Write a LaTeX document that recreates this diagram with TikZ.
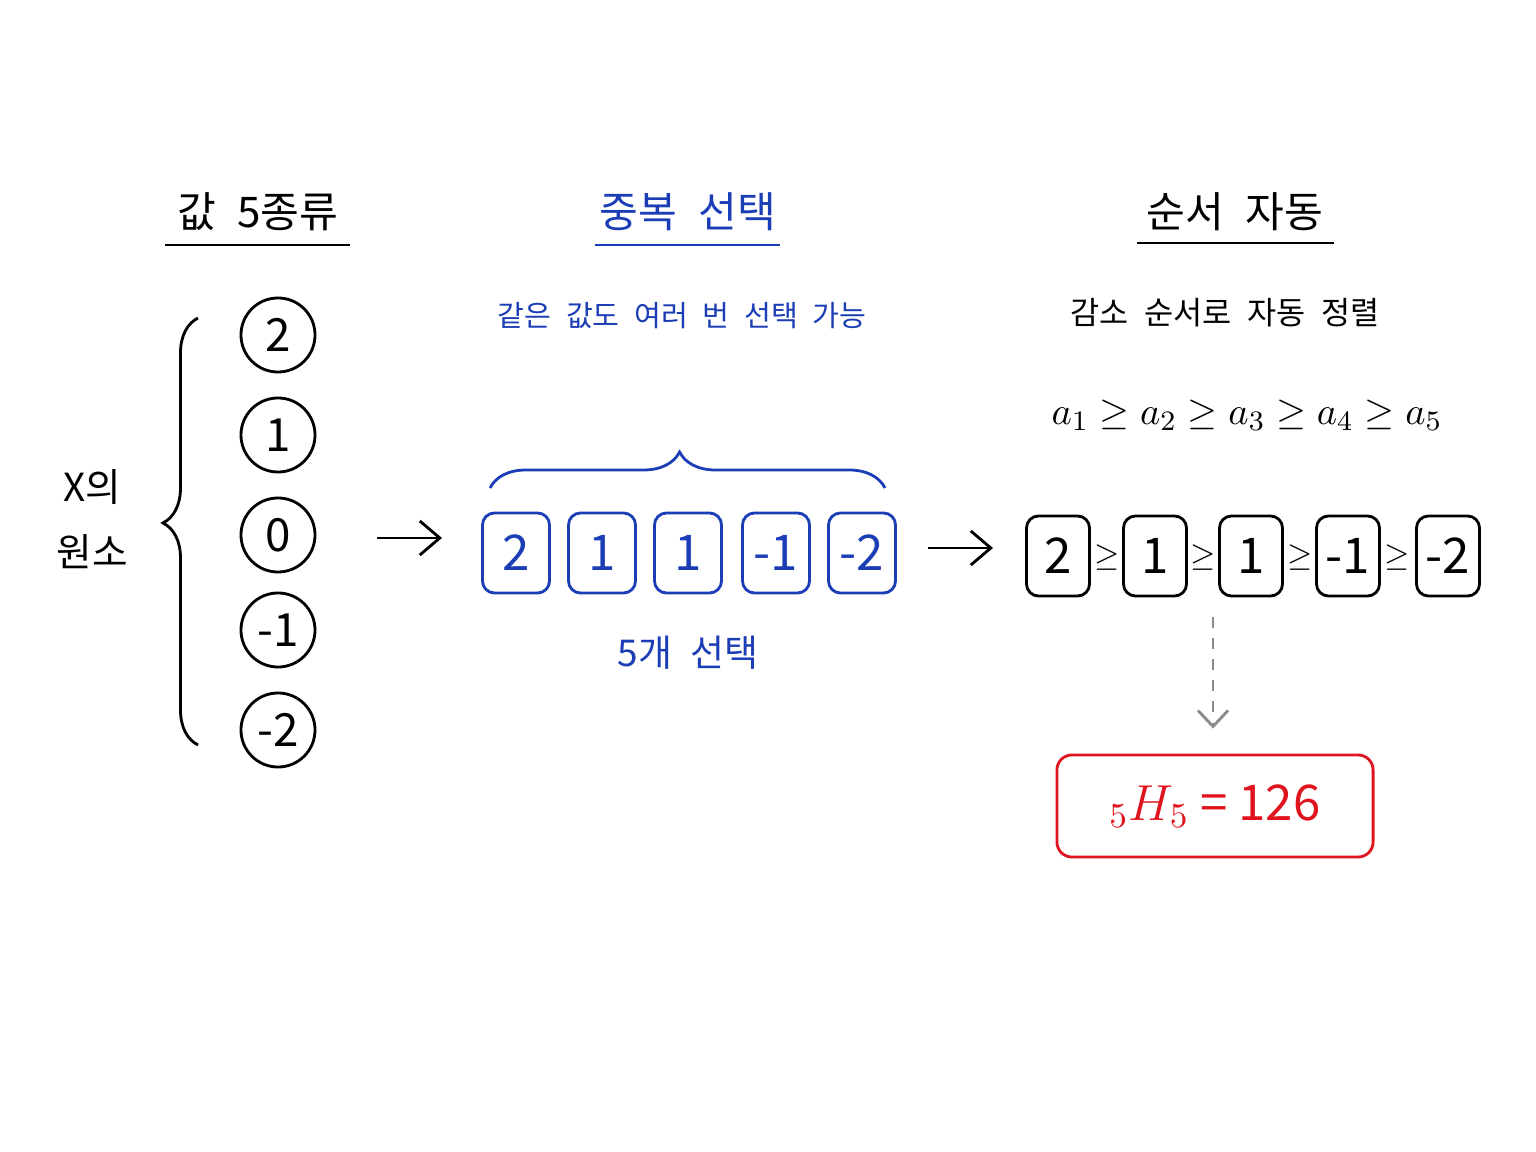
\documentclass[tikz,border=0pt]{standalone}
\usepackage{fontspec}
\setmainfont{Noto Sans CJK KR}
\usepackage{amsmath,amssymb}
\usetikzlibrary{arrows.meta,decorations.pathreplacing}

\begin{document}
\begin{tikzpicture}[x=0.01cm,y=-0.01cm]
				\definecolor{penblue}{HTML}{1B3DB5}
				\definecolor{penred}{HTML}{E0141E}
				\definecolor{pengray}{HTML}{8A8A8A}
				\tikzstyle{arrow}=[draw, thick, -{Straight Barb[length=2mm,width=3.4mm]}]
				\tikzstyle{elem}=[draw, circle, thick, minimum size=0.74cm, inner sep=0pt, font=\fontsize{13}{13}\selectfont]
				\tikzstyle{pick}=[draw=penblue, text=penblue, thick, rounded corners=1.2mm, minimum width=0.67cm, minimum height=0.8cm, inner sep=0pt, font=\fontsize{14}{14}\selectfont]
				\tikzstyle{sorted}=[draw, thick, rounded corners=1.2mm, minimum width=0.63cm, minimum height=0.8cm, inner sep=0pt, font=\fontsize{14}{14}\selectfont]
				\tikzstyle{geq}=[inner sep=0pt, font=\small]
				\tikzstyle{title}=[font=\fontsize{12}{12}\selectfont]
				\tikzstyle{note}=[font=\fontsize{9}{9}\selectfont]

				\useasboundingbox (0,0) rectangle (1536,1152);

				 % Titles
				\node [title] at (258,212) (t1) {값\enspace 5종류};
				\node [title, text=penblue] at (688,212) (t2) {중복\enspace 선택};
				\node [title] at (1235,212) (t3) {순서\enspace 자동};
				\draw [thick] (165,245) -- (350,245);
				\draw [thick, penblue] (595,245) -- (780,245);
				\draw [thick] (1137,243) -- (1334,243);

				 % Elements of X
				\node [elem] at (278,335) (c2) {2};
				\node [elem] at (278,435) (c1) {1};
				\node [elem] at (278,535) (c0) {0};
				\node [elem] at (278,630) (cm1) {-1};
				\node [elem] at (278,730) (cm2) {-2};
				\draw [thick, decorate, decoration={brace, amplitude=0.35cm, aspect=0.52}] (198,745) -- (198,318);
				\node [font=\fontsize{11}{11}\selectfont] at (92,487) (xl) {X의};
				\node [font=\fontsize{11}{11}\selectfont] at (92,552) (xw) {원소};

				 % Repeated choice
				\node [note, text=penblue, font=\fontsize{8.3}{8.3}\selectfont] at (682,316) (n1) {같은\enspace 값도\enspace 여러\enspace 번\enspace 선택\enspace 가능};
				\node [pick] at (516,553) (b1) {2};
				\node [pick] at (602,553) (b2) {1};
				\node [pick] at (688,553) (b3) {1};
				\node [pick] at (776,553) (b4) {-1};
				\node [pick] at (862,553) (b5) {-2};
				\draw [thick, penblue, decorate, decoration={brace, amplitude=0.36cm, aspect=0.48}] (490,488) -- (885,488);
				\node [font=\fontsize{10.5}{10.5}\selectfont, text=penblue] at (688,653) (n2) {5개\enspace 선택};

				 % Sorted order
				\node [note] at (1225,313) (n3) {감소\enspace 순서로\enspace 자동\enspace 정렬};
				\node [font=\fontsize{11}{11}\selectfont] at (1247,415) (ord) {$a_1 \geq a_2 \geq a_3 \geq a_4 \geq a_5$};
				\node [sorted] at (1058,556) (k1) {2};
				\node [sorted] at (1155,556) (k2) {1};
				\node [sorted] at (1251,556) (k3) {1};
				\node [sorted] at (1348,556) (k4) {-1};
				\node [sorted] at (1448,556) (k5) {-2};
				\node [geq] at (1107,558) (g1) {$\geq$};
				\node [geq] at (1203,558) (g2) {$\geq$};
				\node [geq] at (1300,558) (g3) {$\geq$};
				\node [geq] at (1397,558) (g4) {$\geq$};

				 % Result
				\node [draw=penred, text=penred, thick, rounded corners=1.5mm, minimum width=3.16cm, minimum height=1.02cm, font=\fontsize{14}{14}\selectfont] at (1215,806) (res) {${}_5H_5$ = 126};

				 % Path Arrows
				\coordinate (p1s) at (377,538);
				\coordinate (p1e) at (442,538);
				\coordinate (p2s) at (928,548);
				\coordinate (p2e) at (993,548);
				\coordinate (dsrc) at (1213,617);
				\path [arrow] (p1s) -- (p1e);
				\path [arrow] (p2s) -- (p2e);
				\path [draw, thick, pengray, dashed, -{Straight Barb[length=1.6mm,width=3mm]}, shorten >=0.25cm] (dsrc) -- (dsrc |- res.north);

			\end{tikzpicture}
\end{document}
